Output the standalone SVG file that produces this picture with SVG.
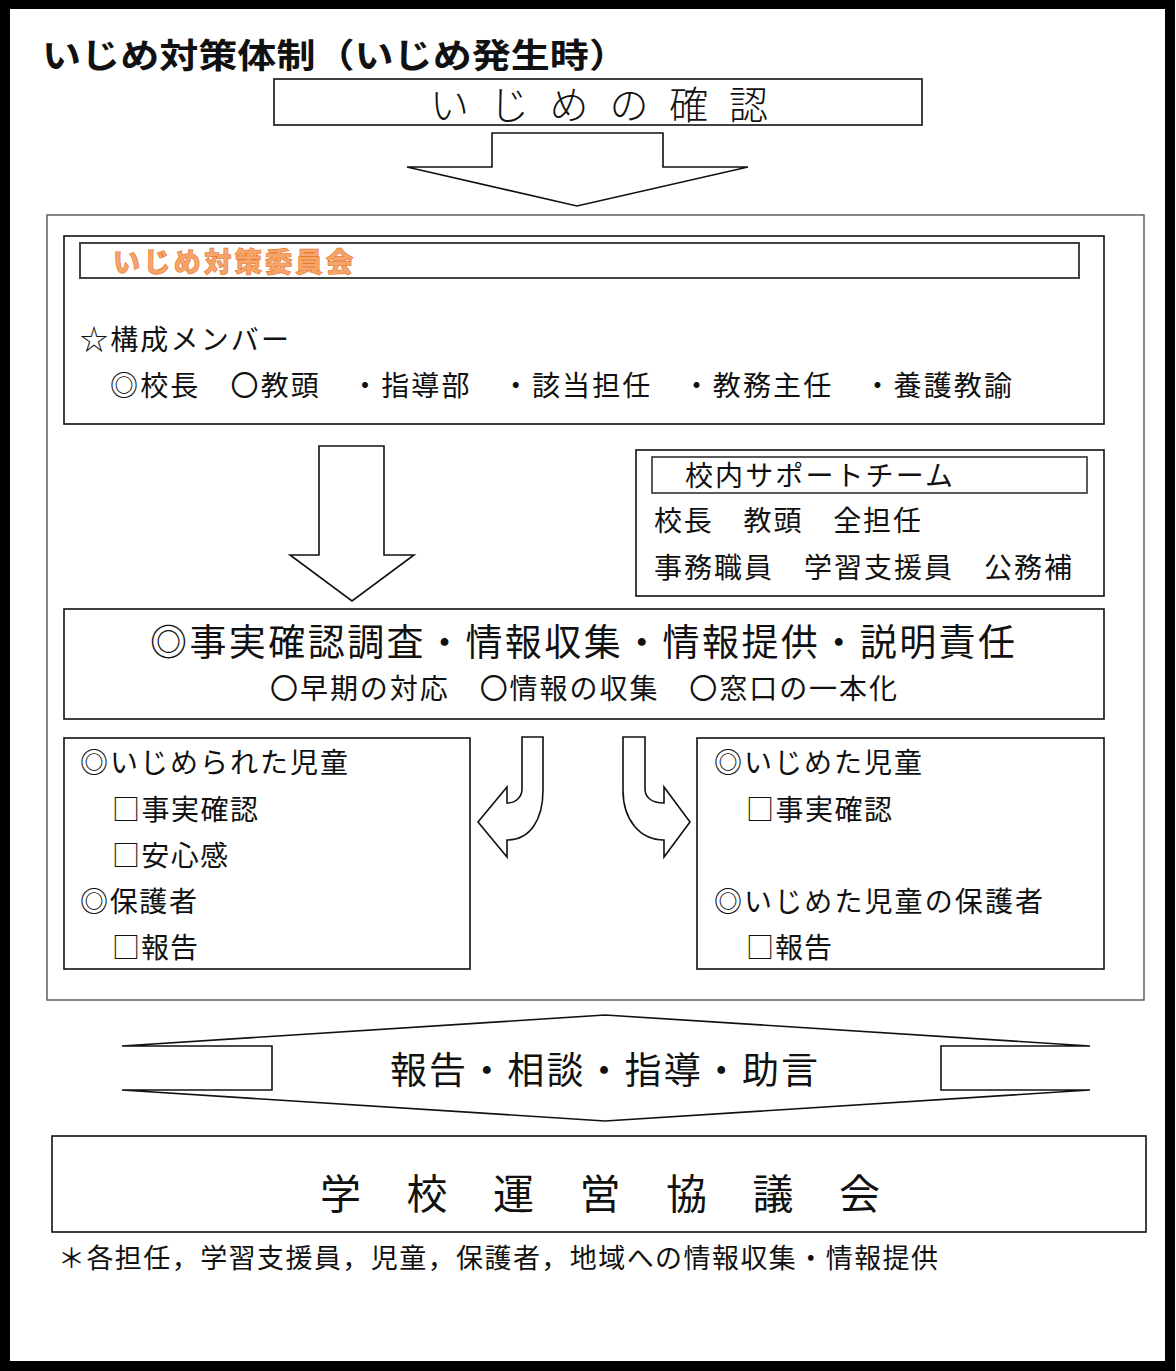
<svg xmlns="http://www.w3.org/2000/svg" width="1176" height="1371" viewBox="0 0 1176 1371">
<style>
text{font-family:"Noto Sans CJK JP","Noto Sans CJK SC",sans-serif;fill:#111}
.box{fill:#fff;stroke:#111;stroke-width:1.6}
.gbox{fill:none;stroke:#555;stroke-width:1.4}
.arrow{fill:#fff;stroke:#111;stroke-width:1.6;stroke-linejoin:miter}
.t26{font-size:28px}
</style>
<rect x="0" y="0" width="1176" height="1371" fill="#fff"/>
<rect x="5" y="4" width="1165" height="1362" fill="none" stroke="#000" stroke-width="10"/>
<g id="title"><text x="42" y="68" font-size="34" font-weight="bold" textLength="586" lengthAdjust="spacingAndGlyphs">いじめ対策体制（いじめ発生時）</text></g>
<g id="confirm">
<rect class="box" x="274" y="79" width="648" height="46" stroke="#555"/>
<text x="430" y="119" font-size="39" textLength="338" font-weight="300">いじめの確認</text>
</g>
<g id="connectors">
<path class="arrow" d="M492,133 H663 V167 H748 L577,206 L407,167 H492 Z"/>
<path class="arrow" d="M319,446 H384 V555 H414 L352,601 L290,555 H319 Z"/>
<path class="arrow" d="M522,737 H543 V790 C543,820 530,840 507,840 V857 L478,822 L507,787 V803 C516,803 522,797 522,789 Z"/>
<path class="arrow" d="M623,737 H645 V789 C645,797 651,803 664,803 V787 L690,822 L664,857 V840 C640,840 623,820 623,790 Z"/>
<path class="arrow" d="M122,1046 L605,1015 L1090,1046 H941 V1090 H1090 L605,1121 L122,1090 H272 V1046 Z"/>
</g>
<g id="container"><rect x="47" y="215" width="1097" height="785" class="gbox"/></g>
<g id="committee">
<rect class="box" x="64" y="236" width="1040" height="188"/>
<rect x="80" y="243" width="999" height="35" fill="none" stroke="#444" stroke-width="2"/>
<text x="113" y="272" font-size="27" font-weight="bold" textLength="240" style="fill:#F5A46A;stroke:#E8782E;stroke-width:1.3;paint-order:stroke">いじめ対策委員会</text>
<text class="t26" x="80" y="350" textLength="209">☆構成メンバー</text>
<text class="t26" x="110" y="396" textLength="902">◎校長　〇教頭　・指導部　・該当担任　・教務主任　・養護教諭</text>
</g>
<g id="support">
<rect class="box" x="636" y="450" width="468" height="146"/>
<rect x="652" y="457" width="435" height="36" fill="none" stroke="#333" stroke-width="1.6"/>
<text class="t26" x="685" y="486" textLength="268">校内サポートチーム</text>
<text class="t26" x="654" y="531" textLength="267">校長　教頭　全担任</text>
<text class="t26" x="654" y="578" textLength="418">事務職員　学習支援員　公務補</text>
</g>
<g id="facts">
<rect class="box" x="64" y="609" width="1040" height="110"/>
<text x="150" y="656" font-size="37" textLength="865">◎事実確認調査・情報収集・情報提供・説明責任</text>
<text class="t26" x="270" y="699" textLength="627">〇早期の対応　〇情報の収集　〇窓口の一本化</text>
</g>
<g id="victim">
<rect class="box" x="64" y="738" width="406" height="231"/>
<text class="t26" x="80" y="773" textLength="268">◎いじめられた児童</text>
<text class="t26" x="112" y="820" textLength="146">□事実確認</text>
<text class="t26" x="112" y="866" textLength="116">□安心感</text>
<text class="t26" x="80" y="912" textLength="117">◎保護者</text>
<text class="t26" x="112" y="958" textLength="86">□報告</text>
</g>
<g id="bully">
<rect class="box" x="697" y="738" width="407" height="231"/>
<text class="t26" x="714" y="773" textLength="208">◎いじめた児童</text>
<text class="t26" x="746" y="820" textLength="146">□事実確認</text>
<text class="t26" x="714" y="912" textLength="329">◎いじめた児童の保護者</text>
<text class="t26" x="746" y="958" textLength="86">□報告</text>
</g>
<g id="report"><text x="390" y="1084" font-size="37" textLength="428">報告・相談・指導・助言</text></g>
<g id="council">
<rect class="box" x="52" y="1136" width="1094" height="96" stroke="#555"/>
<text x="320" y="1209" font-size="41" textLength="560">学　校　運　営　協　議　会</text>
</g>
<g id="note"><text x="58" y="1268" font-size="27" textLength="880">＊各担任，学習支援員，児童，保護者，地域への情報収集・情報提供</text></g>
</svg>
